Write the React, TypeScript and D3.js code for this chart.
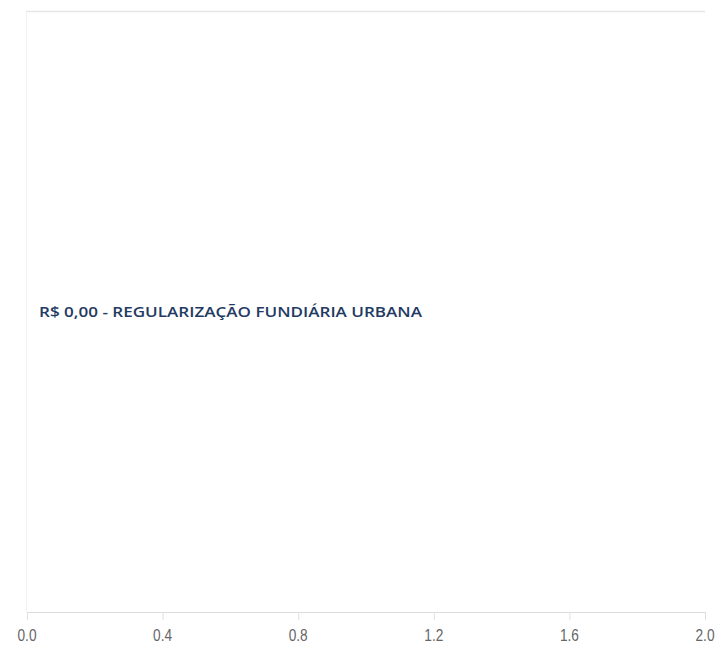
import React from "react";
import * as d3 from "d3";

const categories: string[] = ["REGULARIZAÇÃO FUNDIÁRIA URBANA"];
const values: number[] = [0];
const xTicks: number[] = [0, 0.4, 0.8, 1.2, 1.6, 2.0];
const xDomain: [number, number] = [0, 2];

const W = 718;
const H = 648;
const M = { left: 27, right: 13, top: 12, bottom: 36 };

export default function App() {
  const x = d3.scaleLinear().domain(xDomain).range([M.left, W - M.right]);
  const y = d3
    .scaleBand<string>()
    .domain(categories)
    .range([M.top, H - M.bottom])
    .padding(0.1);
  const y0 = M.top;
  const y1 = H - M.bottom;
  const fmt = (v: number) => "R$ " + v.toFixed(2).replace(".", ",");

  return (
    <svg
      width={W}
      height={H}
      style={{ position: "absolute", left: 0, top: 0, background: "#fff" }}
      fontFamily="'Open Sans', sans-serif"
    >
      <rect x={0} y={0} width={W} height={H} fill="#ffffff" />
      <line x1={x(0) - 1} x2={x(2)} y1={y0 - 0.5} y2={y0 - 0.5} stroke="#e6e6e6" strokeWidth={1.5} />
      <line x1={x(0) - 0.5} x2={x(0) - 0.5} y1={y0} y2={y1} stroke="#f2f2f2" strokeWidth={1} />
      {categories.map((c, i) => (
        <rect
          key={c}
          x={x(0)}
          y={y(c)!}
          width={Math.max(0, x(values[i]) - x(0))}
          height={y.bandwidth()}
          fill="#1f3b63"
        />
      ))}
      <line x1={x(0)} x2={x(2)} y1={y1 + 0.5} y2={y1 + 0.5} stroke="#dcdcdc" strokeWidth={1} />
      {xTicks.map((t) => (
        <g key={t}>
          <line x1={x(t) + 0.5} x2={x(t) + 0.5} y1={y1} y2={y1 + 8} stroke="#e0e0e0" strokeWidth={1} />
          <text
            x={x(t)}
            y={y1 + 29}
            textAnchor="middle"
            fontSize={16}
            fill="#666666"
            fontFamily="'Liberation Sans', Arial, sans-serif"
            textLength={19}
            lengthAdjust="spacingAndGlyphs"
          >
            {t.toFixed(1)}
          </text>
        </g>
      ))}
      {categories.map((c, i) => (
        <text
          key={"l" + c}
          x={x(values[i]) + 12}
          y={y(c)! + y.bandwidth() / 2 + 5}
          fontSize={15}
          fontWeight={600}
          fill="#1f3b63"
          textLength={383}
          lengthAdjust="spacingAndGlyphs"
        >
          {fmt(values[i]) + " - " + c}
        </text>
      ))}
    </svg>
  );
}
